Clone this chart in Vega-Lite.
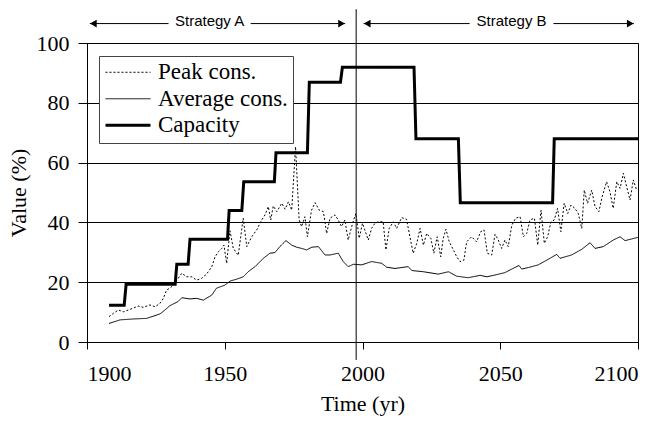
{
  "$schema": "https://vega.github.io/schema/vega-lite/v6.json",
  "width": 551,
  "height": 299,
  "autosize": {"type": "none"},
  "padding": {"left": 87, "top": 43, "right": 23, "bottom": 90},
  "background": "white",
  "config": {
    "view": {"stroke": "black", "strokeWidth": 1}
  },
  "datasets": {
    "series": [
      {"series": "Capacity", "year": 1908, "value": 12.3},
      {"series": "Capacity", "year": 1913.5, "value": 12.3},
      {"series": "Capacity", "year": 1914.2, "value": 19.3},
      {"series": "Capacity", "year": 1932, "value": 19.3},
      {"series": "Capacity", "year": 1932.6, "value": 26},
      {"series": "Capacity", "year": 1936.7, "value": 26},
      {"series": "Capacity", "year": 1937.4, "value": 34.4},
      {"series": "Capacity", "year": 1951, "value": 34.4},
      {"series": "Capacity", "year": 1951.6, "value": 44},
      {"series": "Capacity", "year": 1956.2, "value": 44},
      {"series": "Capacity", "year": 1956.9, "value": 53.6},
      {"series": "Capacity", "year": 1968, "value": 53.6},
      {"series": "Capacity", "year": 1968.6, "value": 63.3},
      {"series": "Capacity", "year": 1980, "value": 63.3},
      {"series": "Capacity", "year": 1980.7, "value": 86.9},
      {"series": "Capacity", "year": 1992, "value": 86.9},
      {"series": "Capacity", "year": 1992.7, "value": 91.9},
      {"series": "Capacity", "year": 2018.7, "value": 91.9},
      {"series": "Capacity", "year": 2019.4, "value": 68},
      {"series": "Capacity", "year": 2034.8, "value": 68},
      {"series": "Capacity", "year": 2035.5, "value": 46.6},
      {"series": "Capacity", "year": 2069, "value": 46.6},
      {"series": "Capacity", "year": 2069.6, "value": 68},
      {"series": "Capacity", "year": 2100, "value": 68},
      {"series": "Average cons.", "year": 1908, "value": 6.2},
      {"series": "Average cons.", "year": 1912, "value": 7.4},
      {"series": "Average cons.", "year": 1916.7, "value": 7.7},
      {"series": "Average cons.", "year": 1921.7, "value": 7.9},
      {"series": "Average cons.", "year": 1926.5, "value": 9.4},
      {"series": "Average cons.", "year": 1928.3, "value": 10.7},
      {"series": "Average cons.", "year": 1930, "value": 12.1},
      {"series": "Average cons.", "year": 1933, "value": 13.5},
      {"series": "Average cons.", "year": 1934.4, "value": 14.8},
      {"series": "Average cons.", "year": 1937.4, "value": 14.4},
      {"series": "Average cons.", "year": 1939.8, "value": 14.6},
      {"series": "Average cons.", "year": 1942.2, "value": 14},
      {"series": "Average cons.", "year": 1945.3, "value": 15.7},
      {"series": "Average cons.", "year": 1947, "value": 18},
      {"series": "Average cons.", "year": 1950, "value": 19},
      {"series": "Average cons.", "year": 1952, "value": 20.4},
      {"series": "Average cons.", "year": 1954.3, "value": 21},
      {"series": "Average cons.", "year": 1956.7, "value": 21.8},
      {"series": "Average cons.", "year": 1958.5, "value": 23.5},
      {"series": "Average cons.", "year": 1961, "value": 25.2},
      {"series": "Average cons.", "year": 1964, "value": 28},
      {"series": "Average cons.", "year": 1966.4, "value": 29.7},
      {"series": "Average cons.", "year": 1968.2, "value": 29.9},
      {"series": "Average cons.", "year": 1970, "value": 31.9},
      {"series": "Average cons.", "year": 1972.2, "value": 33.9},
      {"series": "Average cons.", "year": 1974.3, "value": 32.4},
      {"series": "Average cons.", "year": 1976.1, "value": 31.7},
      {"series": "Average cons.", "year": 1977.9, "value": 31.3},
      {"series": "Average cons.", "year": 1979.7, "value": 30.8},
      {"series": "Average cons.", "year": 1981.6, "value": 31.7},
      {"series": "Average cons.", "year": 1984, "value": 31.9},
      {"series": "Average cons.", "year": 1986.4, "value": 29.1},
      {"series": "Average cons.", "year": 1988.2, "value": 29.1},
      {"series": "Average cons.", "year": 1991.2, "value": 29.7},
      {"series": "Average cons.", "year": 1993, "value": 26.9},
      {"series": "Average cons.", "year": 1994.8, "value": 25.2},
      {"series": "Average cons.", "year": 1996.7, "value": 26},
      {"series": "Average cons.", "year": 1999.7, "value": 25.8},
      {"series": "Average cons.", "year": 2003.3, "value": 26.9},
      {"series": "Average cons.", "year": 2007, "value": 26.3},
      {"series": "Average cons.", "year": 2008.8, "value": 25},
      {"series": "Average cons.", "year": 2011.8, "value": 24.6},
      {"series": "Average cons.", "year": 2016.6, "value": 25.2},
      {"series": "Average cons.", "year": 2017.9, "value": 23.9},
      {"series": "Average cons.", "year": 2022.1, "value": 23.5},
      {"series": "Average cons.", "year": 2027.5, "value": 22.7},
      {"series": "Average cons.", "year": 2031.2, "value": 23.5},
      {"series": "Average cons.", "year": 2034.2, "value": 22},
      {"series": "Average cons.", "year": 2038.4, "value": 21.5},
      {"series": "Average cons.", "year": 2042.7, "value": 22.3},
      {"series": "Average cons.", "year": 2045.1, "value": 21.8},
      {"series": "Average cons.", "year": 2048.1, "value": 22.4},
      {"series": "Average cons.", "year": 2051.7, "value": 23.2},
      {"series": "Average cons.", "year": 2054.2, "value": 24.4},
      {"series": "Average cons.", "year": 2056.8, "value": 25.6},
      {"series": "Average cons.", "year": 2057.8, "value": 24.4},
      {"series": "Average cons.", "year": 2060.2, "value": 24.9},
      {"series": "Average cons.", "year": 2063.8, "value": 25.8},
      {"series": "Average cons.", "year": 2067.5, "value": 27.7},
      {"series": "Average cons.", "year": 2070.5, "value": 29.3},
      {"series": "Average cons.", "year": 2071.7, "value": 28},
      {"series": "Average cons.", "year": 2075.9, "value": 29.1},
      {"series": "Average cons.", "year": 2079.6, "value": 31},
      {"series": "Average cons.", "year": 2082.6, "value": 33.2},
      {"series": "Average cons.", "year": 2084.4, "value": 31.3},
      {"series": "Average cons.", "year": 2087.4, "value": 31.9},
      {"series": "Average cons.", "year": 2091, "value": 34.1},
      {"series": "Average cons.", "year": 2093.5, "value": 35.2},
      {"series": "Average cons.", "year": 2095.3, "value": 33.9},
      {"series": "Average cons.", "year": 2100, "value": 35},
      {"series": "Peak cons.", "year": 1908, "value": 8.5},
      {"series": "Peak cons.", "year": 1909.6, "value": 9.6},
      {"series": "Peak cons.", "year": 1911.4, "value": 10.7},
      {"series": "Peak cons.", "year": 1913.2, "value": 10.1},
      {"series": "Peak cons.", "year": 1915.6, "value": 10.9},
      {"series": "Peak cons.", "year": 1918.6, "value": 12},
      {"series": "Peak cons.", "year": 1920.4, "value": 11.6},
      {"series": "Peak cons.", "year": 1922.9, "value": 12.4},
      {"series": "Peak cons.", "year": 1924.7, "value": 11.8},
      {"series": "Peak cons.", "year": 1926.5, "value": 12.9},
      {"series": "Peak cons.", "year": 1927.7, "value": 14.6},
      {"series": "Peak cons.", "year": 1928.9, "value": 17.4},
      {"series": "Peak cons.", "year": 1930.1, "value": 18},
      {"series": "Peak cons.", "year": 1931.3, "value": 19},
      {"series": "Peak cons.", "year": 1933.1, "value": 21.3},
      {"series": "Peak cons.", "year": 1934.4, "value": 23},
      {"series": "Peak cons.", "year": 1936.2, "value": 21.8},
      {"series": "Peak cons.", "year": 1938, "value": 21.8},
      {"series": "Peak cons.", "year": 1939.8, "value": 20.7},
      {"series": "Peak cons.", "year": 1941.6, "value": 21.3},
      {"series": "Peak cons.", "year": 1943.4, "value": 22.7},
      {"series": "Peak cons.", "year": 1945.3, "value": 25.2},
      {"series": "Peak cons.", "year": 1946.5, "value": 28.5},
      {"series": "Peak cons.", "year": 1947.7, "value": 30.2},
      {"series": "Peak cons.", "year": 1948.9, "value": 31.3},
      {"series": "Peak cons.", "year": 1949.7, "value": 32.4},
      {"series": "Peak cons.", "year": 1950.7, "value": 26.3},
      {"series": "Peak cons.", "year": 1951.9, "value": 37.2},
      {"series": "Peak cons.", "year": 1953.1, "value": 31.3},
      {"series": "Peak cons.", "year": 1954.9, "value": 29},
      {"series": "Peak cons.", "year": 1956.7, "value": 41.4},
      {"series": "Peak cons.", "year": 1958, "value": 31.9},
      {"series": "Peak cons.", "year": 1959.8, "value": 35.2},
      {"series": "Peak cons.", "year": 1961.6, "value": 37.5},
      {"series": "Peak cons.", "year": 1963.4, "value": 40.8},
      {"series": "Peak cons.", "year": 1964.6, "value": 42.5},
      {"series": "Peak cons.", "year": 1965.8, "value": 45.3},
      {"series": "Peak cons.", "year": 1966.7, "value": 40.8},
      {"series": "Peak cons.", "year": 1967.6, "value": 45.5},
      {"series": "Peak cons.", "year": 1968.9, "value": 43.6},
      {"series": "Peak cons.", "year": 1970.7, "value": 46.4},
      {"series": "Peak cons.", "year": 1971.9, "value": 44.4},
      {"series": "Peak cons.", "year": 1973.1, "value": 46.9},
      {"series": "Peak cons.", "year": 1974.3, "value": 44.1},
      {"series": "Peak cons.", "year": 1975.7, "value": 65.3},
      {"series": "Peak cons.", "year": 1977, "value": 40.8},
      {"series": "Peak cons.", "year": 1977.9, "value": 38.6},
      {"series": "Peak cons.", "year": 1979.1, "value": 41.9},
      {"series": "Peak cons.", "year": 1980, "value": 35.2},
      {"series": "Peak cons.", "year": 1981.5, "value": 44.1},
      {"series": "Peak cons.", "year": 1982.8, "value": 46.6},
      {"series": "Peak cons.", "year": 1984.3, "value": 44.1},
      {"series": "Peak cons.", "year": 1985.8, "value": 43.6},
      {"series": "Peak cons.", "year": 1987, "value": 36.3},
      {"series": "Peak cons.", "year": 1988.2, "value": 41.4},
      {"series": "Peak cons.", "year": 1990, "value": 42.5},
      {"series": "Peak cons.", "year": 1991.2, "value": 40.8},
      {"series": "Peak cons.", "year": 1992.4, "value": 38.6},
      {"series": "Peak cons.", "year": 1993.6, "value": 40.8},
      {"series": "Peak cons.", "year": 1994.8, "value": 34.1},
      {"series": "Peak cons.", "year": 1996.4, "value": 39.7},
      {"series": "Peak cons.", "year": 1997.6, "value": 43},
      {"series": "Peak cons.", "year": 1998.8, "value": 34.7},
      {"series": "Peak cons.", "year": 2000, "value": 39.7},
      {"series": "Peak cons.", "year": 2002.1, "value": 34.1},
      {"series": "Peak cons.", "year": 2003.3, "value": 38},
      {"series": "Peak cons.", "year": 2004.5, "value": 39.7},
      {"series": "Peak cons.", "year": 2005.7, "value": 40.2},
      {"series": "Peak cons.", "year": 2007.5, "value": 40.2},
      {"series": "Peak cons.", "year": 2008.5, "value": 30.8},
      {"series": "Peak cons.", "year": 2009.7, "value": 38},
      {"series": "Peak cons.", "year": 2011.2, "value": 40.2},
      {"series": "Peak cons.", "year": 2012.4, "value": 38},
      {"series": "Peak cons.", "year": 2014.2, "value": 41.6},
      {"series": "Peak cons.", "year": 2016, "value": 41},
      {"series": "Peak cons.", "year": 2017.2, "value": 35.2},
      {"series": "Peak cons.", "year": 2018.4, "value": 29.7},
      {"series": "Peak cons.", "year": 2019.7, "value": 33},
      {"series": "Peak cons.", "year": 2020.9, "value": 38},
      {"series": "Peak cons.", "year": 2022.1, "value": 32.4},
      {"series": "Peak cons.", "year": 2023.3, "value": 36.3},
      {"series": "Peak cons.", "year": 2024.8, "value": 34.7},
      {"series": "Peak cons.", "year": 2025.9, "value": 29.7},
      {"series": "Peak cons.", "year": 2027.1, "value": 35.2},
      {"series": "Peak cons.", "year": 2028.4, "value": 28.5},
      {"series": "Peak cons.", "year": 2029.3, "value": 34.7},
      {"series": "Peak cons.", "year": 2030.3, "value": 37.7},
      {"series": "Peak cons.", "year": 2031.5, "value": 33.5},
      {"series": "Peak cons.", "year": 2033, "value": 30.8},
      {"series": "Peak cons.", "year": 2034.2, "value": 28.5},
      {"series": "Peak cons.", "year": 2035.4, "value": 26.9},
      {"series": "Peak cons.", "year": 2036.8, "value": 27.4},
      {"series": "Peak cons.", "year": 2037.8, "value": 33.5},
      {"series": "Peak cons.", "year": 2039.6, "value": 35.2},
      {"series": "Peak cons.", "year": 2041.4, "value": 33.5},
      {"series": "Peak cons.", "year": 2042.9, "value": 36.9},
      {"series": "Peak cons.", "year": 2044.1, "value": 37.5},
      {"series": "Peak cons.", "year": 2045.3, "value": 29.7},
      {"series": "Peak cons.", "year": 2046.9, "value": 29.1},
      {"series": "Peak cons.", "year": 2048.1, "value": 36},
      {"series": "Peak cons.", "year": 2049.3, "value": 34.1},
      {"series": "Peak cons.", "year": 2050.5, "value": 31.3},
      {"series": "Peak cons.", "year": 2051.7, "value": 34.1},
      {"series": "Peak cons.", "year": 2052.9, "value": 31.9},
      {"series": "Peak cons.", "year": 2054.2, "value": 39.1},
      {"series": "Peak cons.", "year": 2055.6, "value": 41.4},
      {"series": "Peak cons.", "year": 2057.2, "value": 41.9},
      {"series": "Peak cons.", "year": 2058.4, "value": 35.2},
      {"series": "Peak cons.", "year": 2059.6, "value": 36.3},
      {"series": "Peak cons.", "year": 2060.8, "value": 40.8},
      {"series": "Peak cons.", "year": 2062.4, "value": 41.4},
      {"series": "Peak cons.", "year": 2063.6, "value": 32.4},
      {"series": "Peak cons.", "year": 2064.8, "value": 44.1},
      {"series": "Peak cons.", "year": 2066, "value": 33},
      {"series": "Peak cons.", "year": 2067.2, "value": 35.2},
      {"series": "Peak cons.", "year": 2068.4, "value": 40.2},
      {"series": "Peak cons.", "year": 2069.6, "value": 40.8},
      {"series": "Peak cons.", "year": 2070.8, "value": 44.7},
      {"series": "Peak cons.", "year": 2072, "value": 36.9},
      {"series": "Peak cons.", "year": 2073.2, "value": 46.4},
      {"series": "Peak cons.", "year": 2074.5, "value": 43},
      {"series": "Peak cons.", "year": 2075.7, "value": 45.8},
      {"series": "Peak cons.", "year": 2077.1, "value": 44.7},
      {"series": "Peak cons.", "year": 2078.3, "value": 43},
      {"series": "Peak cons.", "year": 2079.6, "value": 38},
      {"series": "Peak cons.", "year": 2080.5, "value": 50.8},
      {"series": "Peak cons.", "year": 2081.7, "value": 46.4},
      {"series": "Peak cons.", "year": 2083.2, "value": 50.8},
      {"series": "Peak cons.", "year": 2084.4, "value": 45.3},
      {"series": "Peak cons.", "year": 2085.8, "value": 43.6},
      {"series": "Peak cons.", "year": 2087, "value": 48.6},
      {"series": "Peak cons.", "year": 2088.6, "value": 53.6},
      {"series": "Peak cons.", "year": 2089.8, "value": 50.3},
      {"series": "Peak cons.", "year": 2091, "value": 44.7},
      {"series": "Peak cons.", "year": 2092.3, "value": 53.6},
      {"series": "Peak cons.", "year": 2093.5, "value": 51.4},
      {"series": "Peak cons.", "year": 2094.7, "value": 56.4},
      {"series": "Peak cons.", "year": 2095.9, "value": 51.9},
      {"series": "Peak cons.", "year": 2097.1, "value": 47.5},
      {"series": "Peak cons.", "year": 2098.3, "value": 54.2},
      {"series": "Peak cons.", "year": 2099.5, "value": 50.8}
    ],
    "segments": [
      {"start": 1901, "end": 1929.6},
      {"start": 1959.4, "end": 1993.7},
      {"start": 2000.4, "end": 2038.9},
      {"start": 2069.3, "end": 2098.5}
    ],
    "heads": [
      {"year": 1902.3, "dir": "left"},
      {"year": 1992.4, "dir": "right"},
      {"year": 2001.7, "dir": "left"},
      {"year": 2097.2, "dir": "right"}
    ],
    "labels": [
      {"year": 1944.5, "text": "Strategy A"},
      {"year": 2054.1, "text": "Strategy B"}
    ],
    "divider": [{"year": 1997.7}]
  },
  "layer": [
    {
      "data": {"name": "series"},
      "mark": {"type": "line", "color": "black"},
      "encoding": {
        "x": {"field": "year", "type": "quantitative", "title": "Time (yr)", "scale": {"domain": [1900, 2100], "nice": false, "zero": false},
          "axis": {"values": [1900, 1950, 2000, 2050, 2100], "format": "d", "grid": false, "tickSize": 7, "labelPadding": 14, "titlePadding": 9, "labelFont": "Liberation Serif, Times New Roman, serif", "titleFont": "Liberation Serif, Times New Roman, serif", "labelFontSize": 22, "titleFontSize": 22, "titleFontWeight": "normal", "labelColor": "black", "titleColor": "black", "domainColor": "black", "tickColor": "black"}},
        "y": {"field": "value", "type": "quantitative", "title": "Value (%)", "scale": {"domain": [0, 100], "nice": false},
          "axis": {"values": [0, 20, 40, 60, 80, 100], "grid": true, "gridColor": "black", "gridOpacity": 1, "tickSize": 9, "labelPadding": 9, "titlePadding": 6, "labelFont": "Liberation Serif, Times New Roman, serif", "titleFont": "Liberation Serif, Times New Roman, serif", "labelFontSize": 22, "titleFontSize": 22, "titleFontWeight": "normal", "labelColor": "black", "titleColor": "black", "domainColor": "black", "tickColor": "black"}},
        "strokeDash": {"field": "series", "type": "nominal", "scale": {"domain": ["Peak cons.", "Average cons.", "Capacity"], "range": [[2, 2], [1, 0], [1, 0]]},
          "legend": {"title": null, "orient": "none", "legendX": 12, "legendY": 13, "symbolType": "stroke", "symbolSize": 2025, "symbolStrokeColor": "black", "labelFont": "Liberation Serif, Times New Roman, serif", "labelFontSize": 23, "labelColor": "black", "labelOffset": 6, "strokeColor": "#444", "fillColor": "white", "padding": 5, "rowPadding": 2.5, "clipHeight": 22.5}},
        "strokeWidth": {"field": "series", "type": "nominal", "scale": {"type": "ordinal", "domain": ["Peak cons.", "Average cons.", "Capacity"], "range": [1, 1, 3]},
          "legend": {"title": null, "orient": "none", "legendX": 12, "legendY": 13, "symbolType": "stroke", "symbolSize": 2025, "symbolStrokeColor": "black", "labelFont": "Liberation Serif, Times New Roman, serif", "labelFontSize": 23, "labelColor": "black", "labelOffset": 6, "strokeColor": "#444", "fillColor": "white", "padding": 5, "rowPadding": 2.5, "clipHeight": 22.5}}
      }
    },
    {
      "data": {"name": "divider"},
      "mark": {"type": "rule", "color": "black", "strokeWidth": 1},
      "encoding": {
        "x": {"field": "year", "type": "quantitative", "title": "Time (yr)"},
        "y": {"datum": -6, "type": "quantitative", "title": "Value (%)"},
        "y2": {"datum": 111.3}
      }
    },
    {
      "data": {"name": "segments"},
      "mark": {"type": "rule", "color": "black", "strokeWidth": 1},
      "encoding": {
        "x": {"field": "start", "type": "quantitative", "title": "Time (yr)"},
        "x2": {"field": "end"},
        "y": {"datum": 106.5, "type": "quantitative", "title": "Value (%)"}
      }
    },
    {
      "data": {"name": "heads"},
      "mark": {"type": "point", "filled": true, "color": "black", "opacity": 1, "size": 60},
      "encoding": {
        "x": {"field": "year", "type": "quantitative", "title": "Time (yr)"},
        "y": {"datum": 106.5, "type": "quantitative", "title": "Value (%)"},
        "shape": {"field": "dir", "type": "nominal", "scale": {"domain": ["left", "right"], "range": ["triangle-left", "triangle-right"]}, "legend": null}
      }
    },
    {
      "data": {"name": "labels"},
      "mark": {"type": "text", "font": "Liberation Sans", "fontSize": 15, "color": "black", "baseline": "middle", "align": "center"},
      "encoding": {
        "x": {"field": "year", "type": "quantitative", "title": "Time (yr)"},
        "y": {"datum": 107.3, "type": "quantitative", "title": "Value (%)"},
        "text": {"field": "text"}
      }
    }
  ]
}
